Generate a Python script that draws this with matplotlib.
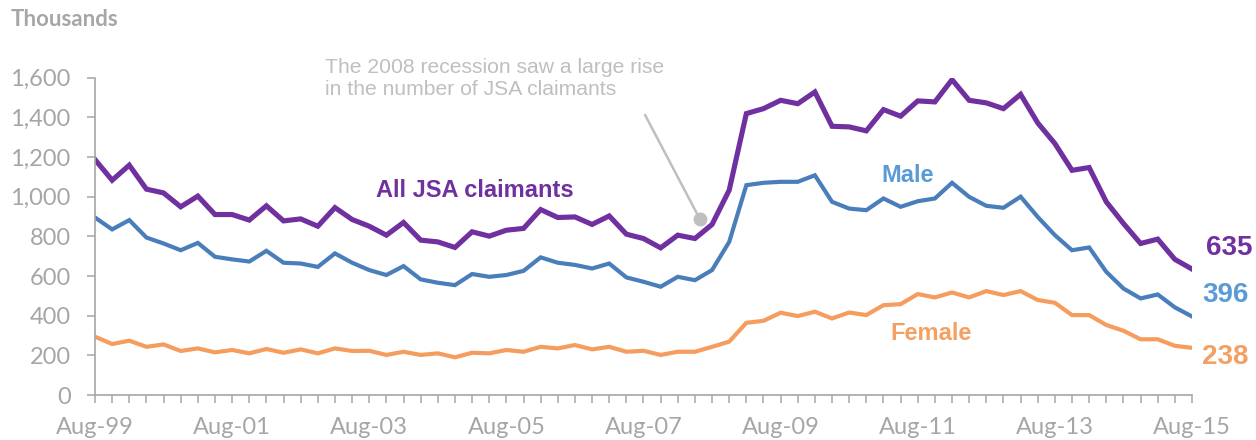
import numpy as np
import matplotlib.pyplot as plt
from matplotlib.ticker import FuncFormatter, MultipleLocator

# quarterly JSA claimants, Aug-99 .. Aug-15 (thousands)
quarters = np.arange(65)
tick_labels = ['Aug-99', 'Aug-01', 'Aug-03', 'Aug-05', 'Aug-07',
               'Aug-09', 'Aug-11', 'Aug-13', 'Aug-15']

all_jsa = [1187, 1083, 1159, 1038, 1019, 949, 1003, 910, 910, 882,
           954, 878, 888, 851, 945, 885, 851, 806, 870, 781,
           772, 744, 823, 801, 831, 840, 935, 895, 898, 860,
           903, 811, 789, 742, 806, 789, 860, 1033, 1419, 1444,
           1486, 1469, 1528, 1355, 1352, 1332, 1439, 1406, 1483, 1478,
           1590, 1486, 1473, 1444, 1516, 1372, 1268, 1133, 1147, 974,
           865, 764, 786, 684, 635]
male = [895, 835, 882, 794, 764, 730, 767, 697, 684, 673,
        727, 667, 663, 646, 714, 667, 630, 605, 650, 583,
        566, 554, 610, 596, 605, 626, 694, 667, 656, 638,
        663, 593, 571, 546, 596, 579, 630, 772, 1058, 1070,
        1075, 1075, 1108, 974, 940, 932, 991, 949, 977, 991,
        1070, 999, 954, 944, 1000, 898, 806, 730, 744, 621,
        537, 487, 507, 442, 396]
female = [294, 257, 274, 243, 255, 222, 235, 215, 227, 210,
          232, 213, 230, 210, 235, 222, 223, 202, 218, 202,
          210, 190, 213, 210, 227, 218, 243, 235, 252, 230,
          243, 218, 223, 202, 218, 218, 243, 269, 364, 374,
          415, 398, 420, 386, 416, 403, 453, 458, 509, 492,
          517, 492, 524, 504, 524, 479, 465, 403, 403, 353,
          324, 281, 281, 248, 238]

purple = '#7030A0'
blue_line = '#4A7EBB'
blue_text = '#5B9BD5'
orange_line = '#F59D5E'
orange_text = '#F4A062'
grey = '#A6A6A6'

fig = plt.figure(figsize=(12.56, 4.4), dpi=100)
ax = fig.add_axes([95 / 1256, 45 / 440, 1097 / 1256, 317.3 / 440])

ax.plot(quarters, female, color=orange_line, lw=3.0, solid_joinstyle='miter')
ax.plot(quarters, male, color=blue_line, lw=3.0, solid_joinstyle='miter')
ax.plot(quarters, all_jsa, color=purple, lw=3.7, solid_joinstyle='miter')

ax.set_xlim(0, 64)
ax.set_ylim(0, 1600)
ax.set_yticks(range(0, 1601, 200))
ax.yaxis.set_major_formatter(FuncFormatter(lambda v, p: f'{int(v):,}'))
ax.set_xticks(range(0, 65, 8))
ax.set_xticklabels(tick_labels)
ax.xaxis.set_minor_locator(MultipleLocator(1))

for s in ['top', 'right']:
    ax.spines[s].set_visible(False)
for s in ['left', 'bottom']:
    ax.spines[s].set_color(grey)
    ax.spines[s].set_linewidth(1.2)

ax.tick_params(axis='both', which='both', direction='out', color=grey,
               length=5.5, width=1.1, labelcolor=grey, labelsize=17)
ax.tick_params(axis='y', pad=12)
ax.tick_params(axis='x', pad=10)
for lab in ax.get_xticklabels() + ax.get_yticklabels():
    lab.set_family('Lato')

fig.text(11 / 1256, 1 - 20 / 440, 'Thousands', color=grey, fontsize=16,
         fontweight='bold', family='Lato', va='center', ha='left')

# series labels
ax.text(22.17, 1033, 'All JSA claimants', color=purple, fontsize=17,
        fontweight='bold', family='Liberation Sans', ha='center', va='center')
ax.text(47.43, 1108, 'Male', color=blue_text, fontsize=17,
        fontweight='bold', family='Liberation Sans', ha='center', va='center')
ax.text(48.8, 312, 'Female', color=orange_text, fontsize=17,
        fontweight='bold', family='Liberation Sans', ha='center', va='center')

ax.text(64.8, 740, f'{all_jsa[-1]}', color=purple, fontsize=20,
        fontweight='bold', family='Liberation Sans', ha='left', va='center',
        clip_on=False)
ax.text(64.6, 504, f'{male[-1]}', color=blue_text, fontsize=20,
        fontweight='bold', family='Liberation Sans', ha='left', va='center',
        clip_on=False)
ax.text(64.6, 191, f'{female[-1]}', color=orange_text, fontsize=20,
        fontweight='bold', family='Liberation Sans', ha='left', va='center',
        clip_on=False)

# recession annotation
ax.annotate('The 2008 recession saw a large rise\nin the number of JSA claimants',
            xy=(35.3, 885), xytext=(13.4, 1700),
            fontsize=15.2, color='#BFBFBF', family='Liberation Sans',
            ha='left', va='top', linespacing=1.22, annotation_clip=False)
ax.plot([32.1, 35.3], [1411, 885], color='#BFBFBF', lw=1.8)
ax.plot([35.3], [885], 'o', color='#BFBFBF', ms=9)

fig.savefig('out.png', dpi=100)
